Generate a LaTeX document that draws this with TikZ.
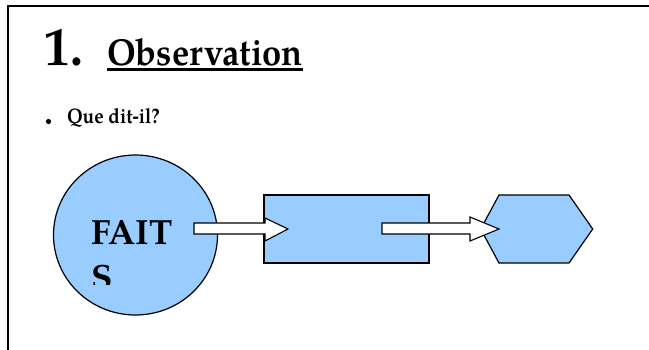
\documentclass[tikz,border=0pt]{standalone}
\usepackage{fontspec}
\usetikzlibrary{shapes.geometric}
\setmainfont{TeX Gyre Pagella}
\begin{document}
\begin{tikzpicture}[x=1pt,y=-1pt,
  shapefill/.style={fill=blueshape,draw=black,line width=1.2pt},
  blockarrow/.style={fill=white,draw=black,line width=1.1pt,line join=miter},
  txt/.style={inner sep=0pt,outer sep=0pt,anchor=base west,font=\bfseries}]
\definecolor{blueshape}{HTML}{99CCFF}
\useasboundingbox (0,0) rectangle (649,349);
\fill[white] (0,0) rectangle (649,349);
% frame
\draw[line width=2pt] (8.3,360) -- (8.3,5.5) -- (660,5.5);
% title
\node[txt,font=\bfseries\fontsize{54}{54}\selectfont] (num) at (45,65) {\scalebox{0.95}[1]{1.}};
\node[txt,font=\bfseries\fontsize{37.5}{37.5}\selectfont] (obs) at (107,65) {\scalebox{0.92}[1]{Observation}};
\draw[line width=2.7pt] (obs.base west |- 0,69.7) coordinate (ul1) -- (obs.base east |- 0,69.7) coordinate (ul2);
% bullet
\fill (48.5,121.5) circle (2.6);
\node[txt,font=\bfseries\fontsize{21}{21}\selectfont] (que) at (67,123.5) {\scalebox{0.9}[1]{Que dit-il?}};
% shapes
\node[shapefill,ellipse,minimum width=164,minimum height=160,inner sep=0pt] (faits) at (135.5,235) {};
\begin{scope}
\clip (0,0) rectangle (649,284);
\node[txt,font=\bfseries\fontsize{35}{35}\selectfont] (t1) at (91,244) {FAIT};
\node[txt,font=\bfseries\fontsize{35}{35}\selectfont] (t2) at (91,289) {S};
\end{scope}
\node[shapefill,rectangle,minimum width=165,minimum height=68,inner sep=0pt] (box) at (346.5,229) {};
\draw[shapefill] (480.7,229) coordinate (hl) -- (499,195) -- (569,195) -- (592.7,229) coordinate (hr) -- (569,263) -- (499,263) -- cycle;
\coordinate (hex) at (536.7,229);
% block arrows
\coordinate (a1s) at (194,228.5);
\coordinate (a1t) at (288,229);
\draw[blockarrow] (194,223) -- (265,223) -- (265,218) -- (288,229) -- (265,241) -- (265,234) -- (194,234) -- cycle;
\coordinate (a2s) at (382,228.5);
\coordinate (a2t) at (499,229);
\draw[blockarrow] (382,223) -- (470,223) -- (470,217) -- (499,229) -- (470,241) -- (470,234) -- (382,234) -- cycle;
\end{tikzpicture}
\end{document}
